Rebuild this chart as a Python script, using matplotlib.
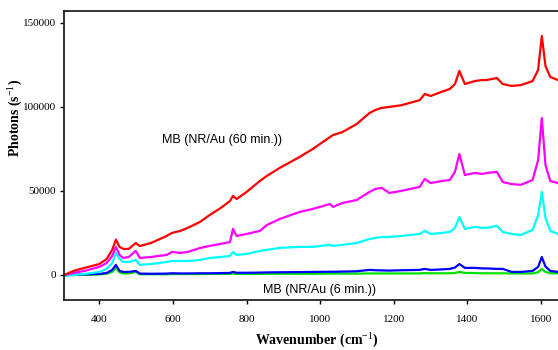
import matplotlib
matplotlib.use("Agg")
import matplotlib.pyplot as plt

plt.rcParams["mathtext.fontset"] = "custom"
plt.rcParams["mathtext.rm"] = "Liberation Serif"
plt.rcParams["mathtext.bf"] = "Liberation Serif:bold"
plt.rcParams["mathtext.it"] = "Liberation Serif:italic"

# wavenumber grid (cm^-1)
wavenumber = [305, 330, 360, 400, 420, 435, 445, 455, 465, 480, 499, 510, 540, 583,
              597, 620, 640, 673, 700, 730, 755, 763, 773, 800, 836, 855, 890, 944,
              980, 1026, 1035, 1060, 1099, 1134, 1150, 1167, 1188, 1220, 1270, 1284,
              1300, 1330, 1352, 1366, 1378, 1393, 1420, 1440, 1452, 1480, 1496, 1520,
              1545, 1577, 1592, 1602, 1612, 1625, 1646]

# photons (s^-1) per spectrum
red = [0, 2400, 4200, 6500, 9500, 15000, 21000, 16700, 15500, 15500, 19000, 17200,
       19000, 23200, 25000, 26200, 28000, 31500, 35700, 39900, 44000, 47000, 45200,
       49400, 55900, 58900, 63700, 70200, 75000, 82000, 83300, 85000, 89800, 96400,
       98200, 99400, 100000, 101000, 104000, 107700, 106500, 109000, 110700, 113600,
       121400, 113600, 115400, 116000, 116000, 117200, 113600, 112500, 113000, 115400,
       122000, 142200, 124300, 117800, 116000]

magenta = [0, 1200, 2400, 4800, 7100, 11300, 16700, 11900, 10100, 10700, 14300, 10100,
           10700, 11900, 13700, 13100, 13700, 16000, 17300, 18500, 19600, 27400, 23200,
           24400, 26200, 29700, 33300, 37500, 39300, 42200, 40500, 42800, 44600, 49400,
           51200, 51800, 48800, 50000, 52400, 57100, 54700, 55900, 56500, 61300, 72000,
           59500, 60700, 60100, 60700, 61300, 55300, 54100, 53600, 56500, 68400, 93400,
           65400, 55900, 54700]

cyan = [-600, 0, 600, 1800, 3600, 7100, 13100, 9500, 7700, 7700, 8900, 6000, 6500, 7700,
        8300, 8300, 8300, 8900, 10100, 10700, 11300, 13700, 11900, 12500, 14300, 14900,
        16100, 16700, 16700, 17900, 17300, 17900, 19000, 21400, 22000, 22600, 22600,
        23200, 24400, 26200, 24400, 25000, 25600, 28000, 34500, 27400, 28600, 28000,
        28000, 29200, 25600, 24400, 23800, 26800, 35700, 49400, 33900, 26200, 24400]

blue = [0, 0, 300, 600, 1200, 3000, 6000, 2400, 1800, 1800, 2400, 800, 700, 800, 1000,
        900, 900, 1000, 1000, 1100, 1200, 1800, 1300, 1300, 1400, 1500, 1600, 1700,
        1800, 1900, 1900, 2000, 2200, 3000, 2800, 2700, 2600, 2800, 3000, 3600, 3000,
        3300, 3600, 4400, 6500, 4200, 4200, 3900, 3900, 3600, 3600, 1800, 1800, 2400,
        4800, 10700, 5000, 2400, 1800]

green = [0, 0, 100, 300, 700, 1800, 4200, 1500, 900, 900, 1800, 400, 400, 400, 500,
         500, 500, 500, 600, 600, 600, 900, 600, 600, 600, 700, 700, 700, 700, 800, 800,
         800, 800, 900, 900, 900, 900, 900, 900, 1100, 1000, 1000, 1000, 1200, 1800,
         1200, 1100, 1000, 1000, 1000, 1000, 900, 900, 900, 1600, 3600, 1800, 1000, 1000]

series = [(green, "#00e000"), (blue, "#0000ff"), (cyan, "#00ffff"),
          (magenta, "#ff00ff"), (red, "#ff0000")]

fig = plt.figure(figsize=(5.58, 3.5), dpi=100)
ax = fig.add_axes([0.1147, 0.1429, 0.8853, 0.8257])

for vals, col in series:
    ax.plot(wavenumber, vals, color=col, lw=1.6)

ax.set_xlim(304, 1646)
ax.set_ylim(-14900, 157100)
ax.set_xticks([400, 600, 800, 1000, 1200, 1400, 1600])
ax.set_yticks([0, 50000, 100000, 150000])

serif = "Liberation Serif"
for lab in ax.get_xticklabels() + ax.get_yticklabels():
    lab.set_family(serif)
    lab.set_fontsize(8)
ax.tick_params(direction="out", length=3, width=1)
ax.tick_params(axis="x", pad=8)
ax.tick_params(axis="y", pad=3)

ax.set_xlabel("Wavenumber (cm$^{-1}$)", family=serif, fontsize=10, fontweight="bold",
              va="center")
ax.xaxis.set_label_coords(0.512, -0.142)
ax.set_ylabel("Photons (s$^{-1}$)", family=serif, fontsize=10, fontweight="bold",
              va="center")
ax.yaxis.set_label_coords(-0.097, 0.63)

for side in ["left", "bottom", "top"]:
    ax.spines[side].set_linewidth(1.3)
    ax.spines[side].set_color("#222222")
ax.spines["right"].set_visible(False)

ax.text(570, 80300, "MB (NR/Au (60 min.))", family="Liberation Sans", fontsize=9,
        va="center", ha="left")
ax.text(844, -8900, "MB (NR/Au (6 min.))", family="Liberation Sans", fontsize=9,
        va="center", ha="left")

fig.savefig("out.png", dpi=100)
